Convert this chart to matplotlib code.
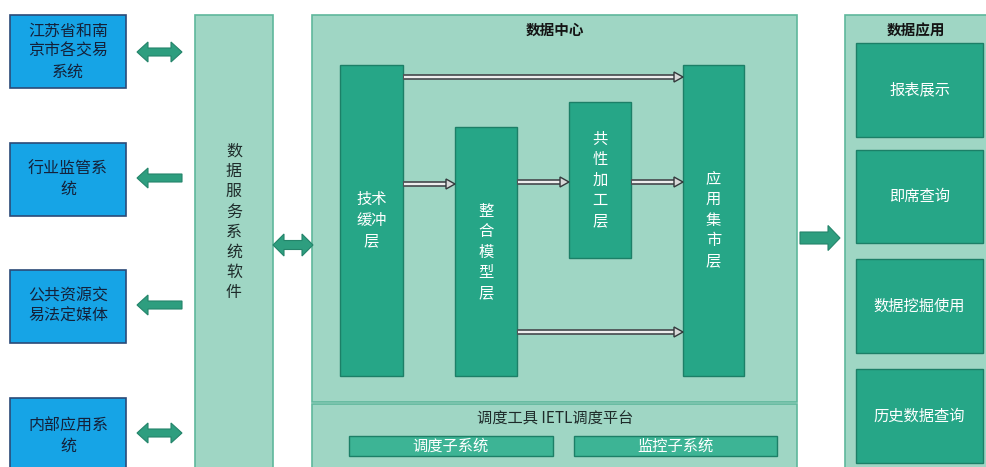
import matplotlib
matplotlib.use("Agg")
import matplotlib.pyplot as plt
from matplotlib.patches import Rectangle, Polygon

plt.rcParams['font.family'] = ['Noto Sans CJK SC', 'DejaVu Sans']

# 外部系统（左侧蓝框）
ext_labels = ["江苏省和南\n京市各交易\n系统", "行业监管系\n统", "公共资源交\n易法定媒体", "内部应用系\n统"]
ext_top = [15, 143, 270, 398]
ext_bottom = [88, 216, 343, 470]
ext_arrow_y = [52, 178, 305, 433]
ext_arrow_kind = ["both", "left", "left", "both"]

service_label = "数据服务系统软件"

# 数据中心内部分层
layer_labels = ["技术\n缓冲\n层", "整\n合\n模\n型\n层", "共\n性\n加\n工\n层", "应\n用\n集\n市\n层"]
layer_x0 = [340, 455, 569, 683]
layer_x1 = [403, 517, 631, 744]
layer_top = [65, 127, 102, 65]
layer_bottom = [376, 376, 258, 376]
layer_text_y = [220, 252, 180, 220]

# 层间数据流 (起始层, 目标层, y)
flows = [(0, 3, 77), (0, 1, 184), (1, 2, 182), (2, 3, 182), (1, 3, 332)]

sched_title = "调度工具 IETL调度平台"
sched_subs = ["调度子系统", "监控子系统"]
sched_x0 = [349, 574]
sched_x1 = [553, 777]

app_title = "数据应用"
app_labels = ["报表展示", "即席查询", "数据挖掘使用", "历史数据查询"]
app_top = [43, 150, 259, 369]
app_bottom = [137, 243, 353, 463]

BLUE = "#16A4E6"
NAVY = "#2B4A78"
LIGHT = "#9FD6C4"
LIGHT_EDGE = "#5FB79C"
DARK = "#26A687"
DARK_EDGE = "#1C7F67"
ARROW = "#2E9E7F"


def block_arrow(ax, x0, x1, y, kind, shaft=8, head=20, hl=11):
    s, h = shaft / 2, head / 2
    if kind == "both":
        pts = [(x0, y), (x0 + hl, y - h), (x0 + hl, y - s), (x1 - hl, y - s),
               (x1 - hl, y - h), (x1, y), (x1 - hl, y + h), (x1 - hl, y + s),
               (x0 + hl, y + s), (x0 + hl, y + h)]
    elif kind == "left":
        pts = [(x0, y), (x0 + hl, y - h), (x0 + hl, y - s), (x1, y - s),
               (x1, y + s), (x0 + hl, y + s), (x0 + hl, y + h)]
    else:
        pts = [(x0, y - s), (x1 - hl, y - s), (x1 - hl, y - h), (x1, y),
               (x1 - hl, y + h), (x1 - hl, y + s), (x0, y + s)]
    ax.add_patch(Polygon(pts, closed=True, fc=ARROW, ec="#24846A", lw=0.8, zorder=3))


def hollow_arrow(ax, x0, x1, y):
    # 灰色双线箭头
    ax.plot([x0, x1 - 7], [y, y], color="#4F5558", lw=4.2, zorder=4, solid_capstyle="butt")
    ax.plot([x0 + 1, x1 - 7], [y, y], color="#EDEDED", lw=1.6, zorder=5, solid_capstyle="butt")
    ax.add_patch(Polygon([(x1 - 9, y - 5), (x1, y), (x1 - 9, y + 5)], closed=True,
                         fc="#D8D8D8", ec="#33383B", lw=1.0, zorder=6))


fig = plt.figure(figsize=(9.87, 4.67), dpi=100)
ax = fig.add_axes([0, 0, 1, 1])
ax.set_xlim(0, 987)
ax.set_ylim(467, 0)
ax.axis("off")

# 左侧蓝框
for lab, t, b, ay, kind in zip(ext_labels, ext_top, ext_bottom, ext_arrow_y, ext_arrow_kind):
    ax.add_patch(Rectangle((10, t), 116, b - t, fc=BLUE, ec=NAVY, lw=1.2))
    ax.text(68, (t + b) / 2 if b < 467 else t + 38, lab, ha="center", va="center",
            fontsize=11.5, color="#14213A", linespacing=1.25)
    block_arrow(ax, 137, 182, ay, kind)

# 数据服务系统软件
ax.add_patch(Rectangle((195, 15), 78, 470, fc=LIGHT, ec=LIGHT_EDGE, lw=1.2))
ax.text(234, 222, "\n".join(service_label), ha="center", va="center", fontsize=11.5,
        color="#1E2B2A", linespacing=1.25)
block_arrow(ax, 273, 313, 245, "both", shaft=9, head=22, hl=11)

# 数据中心
ax.add_patch(Rectangle((312, 15), 485, 387, fc=LIGHT, ec=LIGHT_EDGE, lw=1.2))
ax.text(555, 30, "数据中心", ha="center", va="center", fontsize=10.5, fontweight="bold",
        color="#141414")
for lab, x0, x1, t, b, ty in zip(layer_labels, layer_x0, layer_x1, layer_top, layer_bottom, layer_text_y):
    ax.add_patch(Rectangle((x0, t), x1 - x0, b - t, fc=DARK, ec=DARK_EDGE, lw=1.0, zorder=2))
    ax.text((x0 + x1) / 2, ty, lab, ha="center", va="center", fontsize=11,
            color="white", linespacing=1.25, zorder=3)
for src, dst, y in flows:
    hollow_arrow(ax, layer_x1[src], layer_x0[dst], y)

# 调度平台
ax.add_patch(Rectangle((312, 404), 485, 80, fc=LIGHT, ec=LIGHT_EDGE, lw=1.2))
ax.text(555, 419, sched_title, ha="center", va="center", fontsize=11, color="#1E2B2A")
for lab, x0, x1 in zip(sched_subs, sched_x0, sched_x1):
    ax.add_patch(Rectangle((x0, 436), x1 - x0, 20, fc="#3DB495", ec=DARK_EDGE, lw=1.0))
    ax.text((x0 + x1) / 2, 446, lab, ha="center", va="center", fontsize=11, color="white")

block_arrow(ax, 800, 840, 238, "right", shaft=12, head=25, hl=12)

# 数据应用
ax.add_patch(Rectangle((845, 15), 150, 470, fc=LIGHT, ec=LIGHT_EDGE, lw=1.2))
ax.text(916, 30, app_title, ha="center", va="center", fontsize=10.5, fontweight="bold",
        color="#141414")
for lab, t, b in zip(app_labels, app_top, app_bottom):
    ax.add_patch(Rectangle((856, t), 127, b - t, fc=DARK, ec=DARK_EDGE, lw=1.0))
    ax.text(919.5, (t + b) / 2, lab, ha="center", va="center", fontsize=11, color="white")

fig.savefig("out.png", dpi=100)
